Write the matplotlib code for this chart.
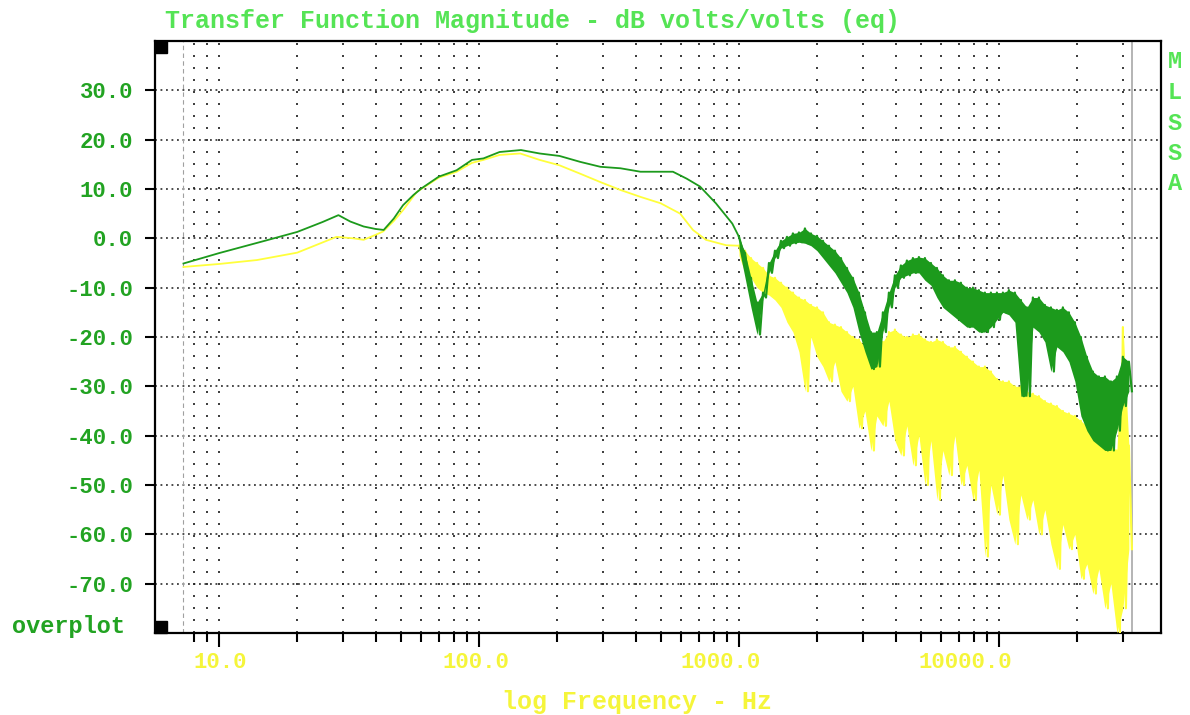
import matplotlib
matplotlib.use("Agg")
import matplotlib.pyplot as plt
import matplotlib.transforms as mtransforms
from matplotlib.ticker import FixedLocator, NullFormatter
from matplotlib.patches import Rectangle

# ---------------- data ----------------
title = "Transfer Function Magnitude - dB volts/volts (eq)"
x_label = "log Frequency - Hz"
side_label = "MLSSA"
corner_label = "overplot"

y_ticks = [-70, -60, -50, -40, -30, -20, -10, 0, 10, 20, 30]
y_tick_labels = ["-70.0", "-60.0", "-50.0", "-40.0", "-30.0", "-20.0",
                 "-10.0", "0.0", "10.0", "20.0", "30.0"]
x_major = [10, 100, 1000, 10000]
x_major_labels = ["10.0", "100.0", "1000.0", "10000.0"]
x_minor = [8, 9, 20, 30, 40, 50, 60, 70, 80, 90,
           200, 300, 400, 500, 600, 700, 800, 900,
           2000, 3000, 4000, 5000, 6000, 7000, 8000, 9000,
           20000, 30000]
f_start_marker = 7.3
f_end_marker = 32500

# smooth low-frequency part
green_lo_f = [7.3, 10, 15, 20, 25, 28.8, 32, 36, 40, 43, 47, 51, 56, 60, 70, 82,
              94, 104, 120, 145, 171, 204, 245, 293, 350, 418, 500, 557, 629,
              708, 815, 942]
green_lo_db = [-5.1, -3.0, -0.5, 1.3, 3.3, 4.7, 3.4, 2.4, 1.9, 1.7, 4.0, 6.7, 8.8,
               10.1, 12.5, 13.8, 15.9, 16.2, 17.5, 17.9, 17.2, 16.7, 15.5, 14.5,
               14.2, 13.5, 13.5, 13.5, 12.1, 10.5, 7.1, 3.0]

yellow_lo_f = [7.3, 10, 14, 20, 28.3, 32.8, 36, 40, 42.8, 47, 51, 57.6, 70, 82,
               94, 104, 120, 144, 171, 204, 245, 293, 350, 418, 500, 594, 665,
               746, 893]
yellow_lo_db = [-5.8, -5.2, -4.4, -2.9, 0.3, 0.0, -0.3, 0.7, 1.4, 3.5, 5.7, 9.4,
                12.3, 13.5, 15.3, 15.9, 16.9, 17.2, 15.9, 14.8, 13.1, 11.4, 9.8,
                8.4, 7.1, 5.0, 1.7, -0.3, -1.4]

# noisy high-frequency part (read point by point; peaks and troughs alternate)
hf_freq = [1000, 1027, 1055, 1083, 1112, 1142, 1173, 1204, 1237, 1270,
           1304, 1339, 1375, 1412, 1450, 1489, 1529, 1570, 1612, 1656,
           1700, 1746, 1793, 1841, 1891, 1942, 1994, 2048, 2103, 2159,
           2217, 2277, 2338, 2401, 2466, 2532, 2600, 2670, 2742, 2816,
           2892, 2970, 3050, 3132, 3216, 3302, 3391, 3483, 3576, 3673,
           3772, 3873, 3977, 4084, 4194, 4307, 4423, 4542, 4665, 4790,
           4919, 5052, 5188, 5327, 5471, 5618, 5769, 5925, 6084, 6248,
           6416, 6589, 6766, 6948, 7135, 7327, 7524, 7727, 7935, 8148,
           8368, 8593, 8824, 9062, 9306, 9556, 9813, 10077, 10349, 10627,
           10913, 11207, 11509, 11819, 12137, 12464, 12799, 13144, 13497, 13861,
           14234, 14617, 15011, 15415, 15830, 16256, 16694, 17143, 17605, 18079,
           18566, 19066, 19579, 20106, 20648, 21204, 21775, 22361, 22963, 23581,
           24216, 24868, 25538, 26226, 26932, 27657, 28402, 29167, 29952, 30759,
           31587, 32437]

green_hf_db = [0.3, -2, -3, -8, -8, -14, -13, -19.5, -11, -12,
               -5, -7, -2.5, -4, -0.5, -2, 0.3, -1.5, 1, -1,
               1.2, -0.8, 2, -1, 1, -1.5, 0.5, -2.5, -0.5, -4,
               -1.5, -5.5, -2.5, -7, -4, -9, -6, -11, -8, -14,
               -11, -19, -15, -23, -19, -26.5, -19, -26, -15, -19,
               -11, -14, -7.5, -10, -5.5, -8, -4.5, -7.5, -4, -7,
               -3.8, -7, -4, -8.5, -5, -9.5, -6, -12, -7.5, -14,
               -8.5, -15, -8.5, -16, -9, -17, -10, -18, -10, -18,
               -10.5, -19, -11, -19, -11, -18, -11, -16.5, -11, -15,
               -10.5, -15.5, -11, -17, -12.5, -32, -14, -32, -12, -18,
               -12, -19, -13.5, -21, -14, -27, -14.5, -22, -14, -23,
               -15, -25, -17, -29, -20, -36, -24, -39, -27, -41,
               -28, -42, -28, -43, -29, -43, -28, -39, -24, -34,
               -25, -31]

yellow_hf_db = [-1.5, -3.5, -2.5, -7, -4, -8, -5, -10, -6, -11,
                -7.5, -11.5, -8, -12.5, -9, -14, -10, -17, -11, -19,
                -12, -23, -12.5, -31, -13.5, -20, -14, -24, -15, -26,
                -17, -29, -17.5, -25, -18, -31, -19, -33, -20, -30,
                -20.5, -38.5, -22, -35, -24, -43, -22, -36, -21, -38,
                -19, -33, -18.5, -41, -19.5, -44, -20, -38, -19.5, -46,
                -19.5, -40, -20.5, -50, -21, -41, -20.5, -53, -21, -43,
                -22, -48, -22, -40, -23, -50, -24, -46, -25, -53,
                -26, -47, -26, -64.5, -27, -50, -28.5, -56, -29, -48,
                -29, -57, -30, -62, -30, -52, -31, -57, -31.5, -53,
                -32, -60, -33, -55, -33.5, -62, -34, -67, -35, -58,
                -35.5, -63, -36, -60, -37, -69, -38, -66, -39, -72,
                -40, -67, -41, -75, -42, -70, -43, -80, -18, -75,
                -42, -63]

# ---------------- style ----------------
W, H = 1190, 715
GREEN_DARK = "#1c9a1c"
GREEN_LABEL = "#22a322"
GREEN_LIGHT = "#55e455"
YELLOW = "#ffff3c"
YELLOW_TXT = "#f5f53a"
MONO = "Liberation Mono"

fig = plt.figure(figsize=(W / 100, H / 100), dpi=100)
fig.patch.set_facecolor("white")
ax_l, ax_r, ax_t, ax_b = 155, 1161, 41, 633
ax = fig.add_axes([ax_l / W, 1 - ax_b / H, (ax_r - ax_l) / W, (ax_b - ax_t) / H])
ax.set_facecolor("white")

ax.set_xscale("log")
ax.set_xlim(5.674, 41976)
ax.set_ylim(-80, 40)

# series: smooth part as thin line, noisy part as a filled band between
# successive peak/trough readings plus the jagged trace itself
ax.plot(yellow_lo_f + hf_freq[:1], yellow_lo_db + yellow_hf_db[:1], color=YELLOW,
        lw=1.3, zorder=3)
ax.fill_between(hf_freq[0::2], yellow_hf_db[0::2], yellow_hf_db[1::2],
                color=YELLOW, lw=0, zorder=3)
ax.plot(hf_freq, yellow_hf_db, color=YELLOW, lw=1.6, zorder=3)

ax.plot(green_lo_f + hf_freq[:1], green_lo_db + green_hf_db[:1], color=GREEN_DARK,
        lw=1.3, zorder=4)
ax.fill_between(hf_freq[0::2], green_hf_db[0::2], green_hf_db[1::2],
                color=GREEN_DARK, lw=0, zorder=4)
ax.plot(hf_freq, green_hf_db, color=GREEN_DARK, lw=1.6, zorder=4)

# range markers
ax.axvline(f_start_marker, color="#a0a0a0", lw=0.8, ls=(0, (4, 3)), zorder=2)
ax.axvline(f_end_marker, color="#b4b4b4", lw=1.4, zorder=2)

# ticks
ax.set_yticks(y_ticks)
ax.set_yticklabels(y_tick_labels, fontfamily=MONO, fontweight="bold",
                   fontsize=16, color=GREEN_LABEL)
ax.xaxis.set_major_locator(FixedLocator(x_major))
ax.xaxis.set_minor_locator(FixedLocator(x_minor))
ax.xaxis.set_minor_formatter(NullFormatter())
ax.set_xticklabels(x_major_labels, fontfamily=MONO, fontweight="bold",
                   fontsize=16, color=YELLOW_TXT)
ax.tick_params(axis="y", which="major", direction="out", length=7.2, width=1.5,
               pad=8.5, color="black")
ax.tick_params(axis="x", which="major", direction="out", length=10, width=1.5,
               pad=4, color="black")
ax.tick_params(axis="x", which="minor", direction="out", length=6.5, width=1.5,
               color="black")
offsets_px = [1, -3, -18, -34]
for lab, dx in zip(ax.get_xticklabels(), offsets_px):
    lab.set_transform(lab.get_transform() +
                      mtransforms.ScaledTranslation(dx / 100, 0, fig.dpi_scale_trans))

# grid
ax.set_axisbelow(True)
ax.yaxis.grid(True, which="major", color="#1a1a1a", linestyle=(0, (1.2, 2.4)),
              linewidth=1.1)
ax.xaxis.grid(True, which="both", color="#1a1a1a", linestyle=(0, (1.2, 6.0)),
              linewidth=1.2)

for sp in ax.spines.values():
    sp.set_linewidth(1.6)
    sp.set_color("black")

# corner squares
sq_w = 12 / (ax_r - ax_l)
sq_h = 12 / (ax_b - ax_t)
ax.add_patch(Rectangle((0, 0), sq_w, sq_h, transform=ax.transAxes,
                       color="black", zorder=6, clip_on=False))
ax.add_patch(Rectangle((0, 1 - sq_h), sq_w, sq_h, transform=ax.transAxes,
                       color="black", zorder=6, clip_on=False))

# texts
fig.text(165 / W, 1 - 21 / H, title, ha="left", va="center", fontfamily=MONO,
         fontweight="bold", fontsize=18, color=GREEN_LIGHT)
fig.text(637 / W, 1 - 702 / H, x_label, ha="center", va="center",
         fontfamily=MONO, fontweight="bold", fontsize=18, color=YELLOW_TXT)
fig.text(12 / W, 1 - 626 / H, corner_label, ha="left", va="center",
         fontfamily=MONO, fontweight="bold", fontsize=17, color=GREEN_LABEL)
for i, ch in enumerate(side_label):
    fig.text(1175 / W, 1 - (62 + 30.5 * i) / H, ch, ha="center", va="center",
             fontfamily=MONO, fontweight="bold", fontsize=17, color=GREEN_LIGHT)

fig.savefig("out.png", dpi=100, facecolor="white")
